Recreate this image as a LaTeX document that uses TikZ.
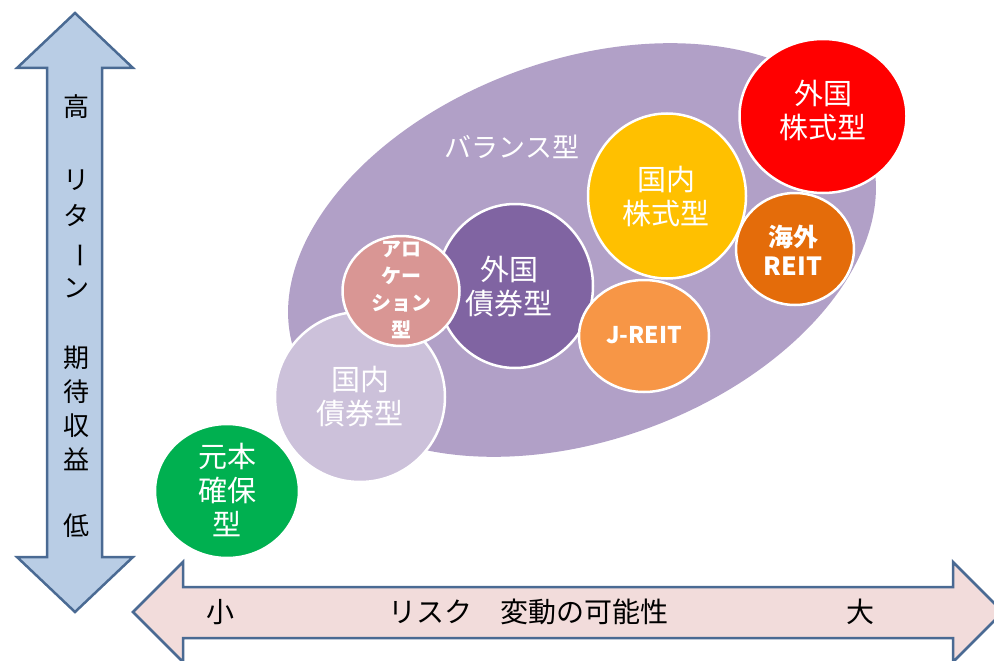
\documentclass[tikz,border=0pt]{standalone}
\usepackage{fontspec}
\setmainfont{Noto Sans CJK JP}
\usepackage{graphicx}
\usetikzlibrary{shapes.geometric}
\definecolor{vfill}{HTML}{B9CDE5}
\definecolor{hfill}{HTML}{F2DCDB}
\definecolor{aline}{HTML}{4A6A93}
\definecolor{balc}{HTML}{B1A0C7}
\definecolor{kbondc}{HTML}{CCC1DA}
\definecolor{gbondc}{HTML}{8064A2}
\definecolor{allocc}{HTML}{D99694}
\definecolor{jreitc}{HTML}{F79646}
\definecolor{kstockc}{HTML}{FFC000}
\definecolor{gstockc}{HTML}{FF0000}
\definecolor{greitc}{HTML}{E46C0A}
\definecolor{ganc}{HTML}{00B050}
\begin{document}
\begin{tikzpicture}[x=1pt,y=-1pt,
  bub/.style={ellipse, draw=white, line width=2.5pt, inner sep=0pt},
  intext/.style={text=white, align=center, inner sep=0pt, font=\fontsize{29}{34}\selectfont},
  axtext/.style={text=black, align=center, inner sep=0pt, font=\fontsize{26}{36}\selectfont},
  axarrow/.style={draw=aline, line width=2.5pt, line join=miter}]
\clip (0,0) rectangle (994,661);
% axes
\draw[axarrow, fill=vfill] (75,13) -- (133,68) -- (102,68) -- (102,557) -- (133,557) -- (75,612) -- (17,557) -- (47,557) -- (47,68) -- (17,68) -- cycle;
\draw[axarrow, fill=hfill] (133,612) -- (183,562) -- (183,587) -- (953,587) -- (953,562) -- (1003,612) -- (953,662) -- (953,638) -- (183,638) -- (183,662) -- cycle;
\node[axtext] (hi) at (76,107) {高};
\node[axtext] (ret) at (76,234) {リ\\タ\\\rotatebox[origin=c]{-90}{ー}\\ン};
\node[axtext, font=\fontsize{26}{34}\selectfont] (exp) at (76,408) {期\\待\\収\\益};
\node[axtext] (lo) at (76,526) {低};
\node[axtext, font=\fontsize{28}{30}\selectfont] (small) at (220,612) {小};
\node[axtext, font=\fontsize{28}{30}\selectfont] (risk) at (528,612) {リスク　変動の可能性};
\node[axtext, font=\fontsize{28}{30}\selectfont] (big) at (860,612) {大};
% balance ellipse
\node[ellipse, fill=balc, inner sep=0pt, minimum width=610pt, minimum height=380pt, rotate=20] (bal) at (582,250) {};
\node[intext, font=\fontsize{27}{30}\selectfont] (tbal) at (512,147) {バランス型};
% bubbles
\node[bub, fill=kbondc, minimum width=170pt, minimum height=170pt] (kb) at (360,397) {};
\node[bub, fill=gbondc, minimum width=156pt, minimum height=164pt] (gb) at (515,286) {};
\node[bub, fill=allocc, minimum width=117pt, minimum height=110pt] (al) at (401,291) {};
\node[bub, fill=jreitc, minimum width=130pt, minimum height=112pt] (jr) at (644,336) {};
\node[bub, fill=kstockc, minimum width=158pt, minimum height=165pt] (ks) at (667,196) {};
\node[bub, fill=greitc, minimum width=118pt, minimum height=112pt] (gr) at (795,249) {};
\node[bub, fill=gstockc, minimum width=167pt, minimum height=154pt] (gs) at (823,116) {};
\node[bub, fill=ganc, minimum width=144pt, minimum height=134pt] (gn) at (227,491) {};
% bubble texts
\node[intext] (tgs) at (823,110) {外国\\株式型};
\node[intext] (tks) at (666,197) {国内\\株式型};
\node[intext, font=\bfseries\fontsize{25}{29}\selectfont] (tgr) at (793,250) {海外\\REIT};
\node[intext, font=\bfseries\fontsize{23}{26}\selectfont] (tjr) at (644,335) {J-REIT};
\node[intext] (tgb) at (509,287) {外国\\債券型};
\node[intext, font=\bfseries\fontsize{20}{27}\selectfont] (tal) at (401,290) {アロ\\ケー\\ション\\型};
\node[intext] (tkb) at (360,397) {国内\\債券型};
\node[intext] (tgn) at (227,490) {元本\\確保\\型};
\end{tikzpicture}
\end{document}
